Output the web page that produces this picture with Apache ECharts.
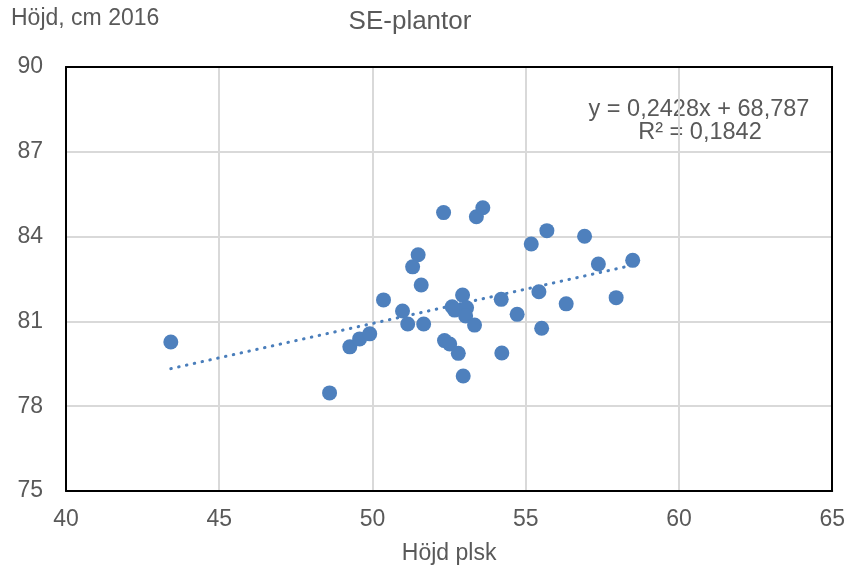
<!DOCTYPE html>
<html>
<head>
<meta charset="utf-8">
<script src="https://cdn.jsdelivr.net/npm/echarts@6/dist/echarts.min.js"></script>
<style>
  html, body { margin: 0; padding: 0; background: #fff; }
  #chart { width: 848px; height: 570px; }
</style>
</head>
<body>
<div id="chart"></div>
<script>
// Höjd plsk (x) och Höjd 2016 (y)
const plskHeight = [43.42, 48.6, 49.26, 49.58, 49.91, 50.36, 50.98, 51.15, 51.67, 51.49,
  51.31, 51.59, 52.32, 53.39, 53.6, 52.94, 52.6, 52.68, 53.07, 53.04,
  53.33, 52.35, 52.52, 52.8, 52.96, 54.2, 54.72, 54.22, 55.18, 55.69,
  56.92, 57.37, 58.49, 55.43, 56.32, 57.95, 55.52];
const height2016 = [80.27, 78.47, 80.1, 80.38, 80.56, 81.76, 81.37, 80.91, 80.91, 83.36,
  82.93, 82.29, 84.85, 84.7, 85.02, 81.93, 81.52, 81.4, 81.48, 81.19,
  80.87, 80.32, 80.2, 79.87, 79.07, 81.78, 81.25, 79.88, 83.74, 84.21,
  84.01, 83.03, 83.16, 82.05, 81.62, 81.84, 80.76];

// linjär trend (från diagrammets ekvation)
const slope = 0.2428;
const intercept = 68.787;

const points = plskHeight.map((x, i) => [x, height2016[i]]);
const xMin = Math.min(...plskHeight);
const xMax = Math.max(...plskHeight);
const trend = [[xMin, slope * xMin + intercept], [xMax, slope * xMax + intercept]];

const font = 'Liberation Sans, Arial, sans-serif';
const txt = '#595959';
const border = { show: true, onZero: false, lineStyle: { color: '#000', width: 2 } };

const chart = echarts.init(document.getElementById('chart'));
chart.setOption({
  animation: false,
  graphic: [
    { type: 'text', x: 410, y: 22,
      style: { text: 'SE-plantor', font: '26px ' + font, fill: txt, align: 'center', verticalAlign: 'middle' } },
    { type: 'text', x: 11, y: 19,
      style: { text: 'Höjd, cm 2016', font: '23px ' + font, fill: txt, align: 'left', verticalAlign: 'middle' } },
    { type: 'text', x: 699, y: 110,
      style: { text: 'y = 0,2428x + 68,787', font: '23.5px ' + font, fill: txt, align: 'center', verticalAlign: 'middle' } },
    { type: 'text', x: 700, y: 133,
      style: { text: 'R² = 0,1842', font: '23.5px ' + font, fill: txt, align: 'center', verticalAlign: 'middle' } }
  ],
  grid: { left: 66, right: 15, top: 67, bottom: 79 },
  xAxis: [
    {
      type: 'value', min: 40, max: 65, interval: 5,
      name: 'Höjd plsk', nameLocation: 'middle', nameGap: 51,
      nameTextStyle: { fontFamily: font, fontSize: 23, color: txt },
      axisLine: border,
      axisTick: { show: false },
      axisLabel: { fontFamily: font, fontSize: 23, color: txt, margin: 17 },
      splitLine: { lineStyle: { color: '#d9d9d9', width: 2 } }
    },
    {
      type: 'value', min: 40, max: 65, position: 'top',
      axisLine: border, axisTick: { show: false }, axisLabel: { show: false }, splitLine: { show: false }
    }
  ],
  yAxis: [
    {
      type: 'value', min: 75, max: 90, interval: 3,
      axisLine: border,
      axisTick: { show: false },
      axisLabel: { fontFamily: font, fontSize: 23, color: txt, margin: 23 },
      splitLine: { lineStyle: { color: '#d9d9d9', width: 2 } }
    },
    {
      type: 'value', min: 75, max: 90, position: 'right',
      axisLine: border, axisTick: { show: false }, axisLabel: { show: false }, splitLine: { show: false }
    }
  ],
  series: [
    {
      type: 'line',
      data: trend,
      symbol: 'none',
      lineStyle: { color: '#4a7ebb', width: 3, type: [0.5, 7.5], cap: 'round' },
      z: 1
    },
    {
      type: 'scatter',
      data: points,
      symbolSize: 15,
      itemStyle: { color: '#4e80bd', opacity: 1 },
      z: 2
    }
  ]
});
</script>
</body>
</html>
